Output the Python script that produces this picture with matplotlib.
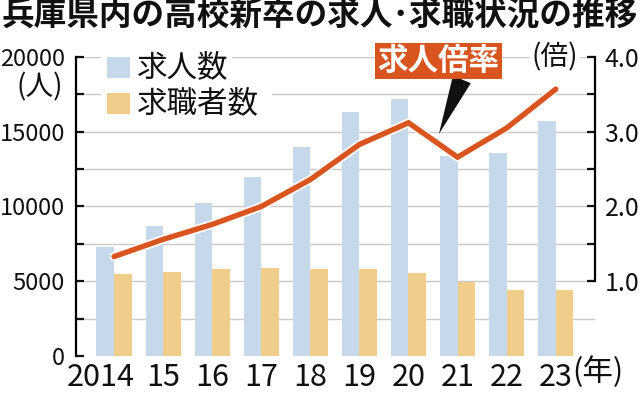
import matplotlib
matplotlib.use("Agg")
import matplotlib.pyplot as plt
import numpy as np
from matplotlib.patches import Rectangle
from matplotlib.transforms import ScaledTranslation
import matplotlib.patheffects as pe

plt.rcParams['font.family'] = ['Noto Sans CJK JP', 'DejaVu Sans']

# ---- data ----
years = ['2014', '15', '16', '17', '18', '19', '20', '21', '22', '23']
job_openings = [7300, 8700, 10250, 11950, 14000, 16300, 17200, 13400, 13550, 15700]   # 求人数
job_seekers = [5500, 5600, 5800, 5900, 5850, 5800, 5550, 4950, 4400, 4400]          # 求職者数
ratio = [1.33, 1.56, 1.76, 2.00, 2.36, 2.83, 3.12, 2.66, 3.05, 3.57]                 # 求人倍率
left_ticks = [0, 5000, 10000, 15000, 20000]
right_ticks = [1.0, 2.0, 3.0, 4.0]

title = '兵庫県内の高校新卒の求人･求職状況の推移'

BLUE = '#C6D9EA'
ORANGE = '#F0CD8A'
RED = '#D9551F'
GRID = '#C9C9C9'

W, H = 640, 393
fig = plt.figure(figsize=(W / 100, H / 100), dpi=100)

def fx(px):
    return px / W

def fy(py):
    return 1 - py / H

ax_l, ax_r, ax_t, ax_b = 76, 595, 57, 356
ax = fig.add_axes([fx(ax_l), fy(ax_b), fx(ax_r) - fx(ax_l), fy(ax_t) - fy(ax_b)])
ax2 = ax.twinx()

x = np.arange(len(years))
bw = 0.358
ax.bar(x - bw / 2, job_openings, width=bw, color=BLUE, zorder=2, linewidth=0)
ax.bar(x + bw / 2, job_seekers, width=bw, color=ORANGE, zorder=2, linewidth=0)

ax.set_xlim(-0.774, 9.80)
ax.set_ylim(0, 20000)
ax2.set_ylim(0, 4)

# gridlines every 2500
for v in np.arange(2500, 20001, 2500):
    ax.axhline(v, color=GRID, lw=1.0, zorder=1)

for s in ['top', 'bottom', 'right']:
    ax.spines[s].set_visible(False)
ax.spines['left'].set_linewidth(1.6)
ax.spines['left'].set_bounds(0, 20000)
ax.set_yticks(np.arange(0, 20001, 2500))
ax.set_yticklabels([str(v) if v in left_ticks else '' for v in np.arange(0, 20001, 2500)])
ax.tick_params(axis='y', direction='in', length=6, width=1.6, pad=8, labelsize=17, colors='#111111')

ax.set_xticks(x)
ax.set_xticklabels(years)
ax.tick_params(axis='x', length=0, pad=4, labelsize=22, colors='#111111')
lbl0 = ax.get_xticklabels()[0]
lbl0.set_horizontalalignment('right')
lbl0.set_transform(lbl0.get_transform() + ScaledTranslation(0.21, 0, fig.dpi_scale_trans))

for s in ['top', 'bottom', 'left']:
    ax2.spines[s].set_visible(False)
ax2.spines['right'].set_linewidth(1.6)
ax2.spines['right'].set_bounds(1.0, 4.0)
ax2.set_yticks(np.arange(1.0, 4.01, 0.5))
ax2.set_yticklabels([f'{v:.1f}' if v in right_ticks else '' for v in np.arange(1.0, 4.01, 0.5)])
ax2.tick_params(axis='y', direction='in', length=6, width=1.6, pad=7, labelsize=18, colors='#111111')

ax2.plot(x, ratio, color=RED, lw=3.9, solid_capstyle='round', solid_joinstyle='miter', zorder=5,
         path_effects=[pe.Stroke(linewidth=6.3, foreground='white'), pe.Normal()])

# (年)
ax.text(9 + 17 / 49.1, -0.0, '(年)', transform=ax.get_xaxis_transform(), fontsize=22,
        ha='left', va='top', color='#111111')

# unit labels
fig.text(fx(40), fy(87), '(人)', fontsize=20, ha='center', va='center', color='#111111')
fig.text(fx(555), fy(57), '(倍)', fontsize=20, ha='center', va='center', color='#111111',
         bbox=dict(boxstyle='square,pad=0.05', fc='white', ec='none'), zorder=6)

# legend
for (sq_y, txt, col, txt_right) in [(57, '求人数', BLUE, 232), (93, '求職者数', ORANGE, 272)]:
    fig.add_artist(Rectangle((fx(101), fy(sq_y + 26)), fx(txt_right) - fx(101), (26) / H + 0.005,
                             transform=fig.transFigure, fc='white', ec='none', zorder=3))
    fig.add_artist(Rectangle((fx(107), fy(sq_y + 21)), fx(130) - fx(107), 21 / H,
                             transform=fig.transFigure, fc=col, ec='none', zorder=4))
    fig.text(fx(137), fy(sq_y + 10.5), txt, fontsize=22, ha='left', va='center', color='#111111', zorder=4)

# title
fig.text(0.5, fy(16), title, fontsize=23.5, fontweight='bold', ha='center', va='center', color='#111111')

# callout
ax2.annotate('求人倍率', xy=(6.62, 2.97), xycoords='data',
             xytext=(fx(438.5), fy(61)), textcoords='figure fraction',
             ha='center', va='center', fontsize=22, fontweight='bold', color='white',
             bbox=dict(boxstyle='square,pad=0.08', fc=RED, ec='none'),
             arrowprops=dict(arrowstyle='wedge,tail_width=0.7,shrink_factor=0.5', fc='#111111', ec='none',
                             relpos=(0.7, 0.0), shrinkA=0, shrinkB=0, mutation_scale=20),
             annotation_clip=False, zorder=7)

fig.savefig('out.png', dpi=100)
